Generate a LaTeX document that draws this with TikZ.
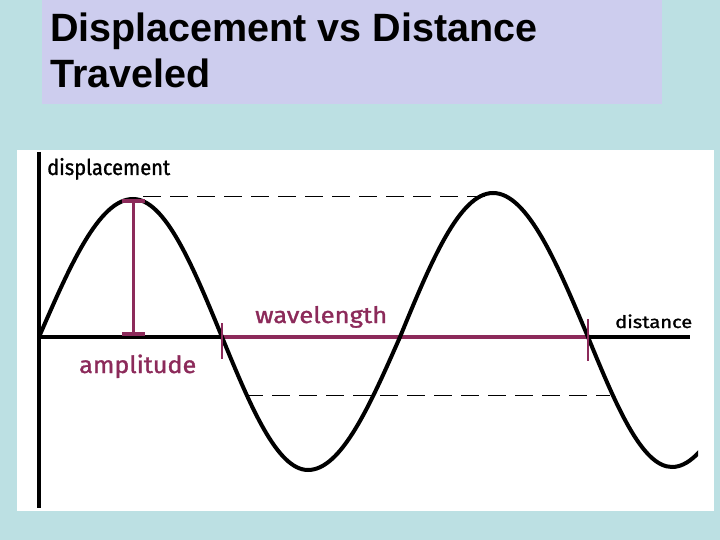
\documentclass[tikz,border=0pt]{standalone}
\usepackage{fontspec}
\setmainfont{Liberation Sans}
\newfontfamily\labelfont[FakeBold=1.2]{Fira Sans}
\usepackage{graphicx}
\definecolor{bgc}{RGB}{188,224,227}
\definecolor{titlec}{RGB}{205,205,238}
\definecolor{wavec}{RGB}{140,42,90}
\tikzset{
  titletext/.style={anchor=base west, inner sep=0pt, font=\bfseries\fontsize{39.5}{44}\selectfont},
  lbl/.style={anchor=base west, inner sep=0pt},
  axisline/.style={line width=3.5pt, black},
  guideline/.style={line width=1pt, black, dash pattern=on 18pt off 9pt},
  marker/.style={line width=3pt, wavec},
  wave/.style={line width=4pt, black}
}
\begin{document}
\begin{tikzpicture}[x=1pt,y=-1pt]
\useasboundingbox (0,0) rectangle (720,540);
\fill[bgc] (0,0) rectangle (720,540);
\fill[titlec] (42,0) rectangle (662,104);
\node[titletext] (t1) at (50,42) {Displacement vs Distance};
\node[titletext] (t2) at (50,88) {Traveled};
\fill[white] (17,150) rectangle (714,511);
% dashed guide lines
\draw[guideline] (143,197) -- (490,197);
\draw[guideline] (245,395) -- (610,395);
% axes
\draw[line width=3.2pt] (39,152) -- (39,508);
\draw[axisline] (39,337) -- (222,337);
\draw[axisline] (588,337) -- (690,337);
\draw[line width=4pt, wavec] (222,337) -- (588,337);
% wave
\begin{scope}
\clip (0,0) rectangle (698,540);
\draw[wave] (39,337) sin (133,199) cos (222,337) sin (308,470) cos (400,337) sin (493,193) cos (588,337) sin (672,467) cos (760,337);
\end{scope}
% amplitude marker
\draw[marker] (133,201) -- (133,334);
\draw[marker, line width=4pt] (122,201) -- (145,201);
\draw[marker, line width=4pt] (122,334) -- (145,334);
% wavelength ticks
\draw[marker, line width=2.5pt] (222,323) -- (222,359);
\draw[marker, line width=2.5pt] (588,319) -- (588,361);
% labels
\node[lbl] (ldisp) at (47,175) {\resizebox{123pt}{17pt}{\labelfont displacement}};
\node[lbl, text=wavec] (lamp) at (79,373) {\resizebox{117pt}{18.5pt}{\labelfont amplitude}};
\node[lbl, text=wavec] (lwave) at (255,323) {\resizebox{132pt}{17pt}{\labelfont wavelength}};
\node[lbl] (ldist) at (615,328) {\resizebox{77pt}{13.5pt}{\labelfont distance}};
\end{tikzpicture}
\end{document}
